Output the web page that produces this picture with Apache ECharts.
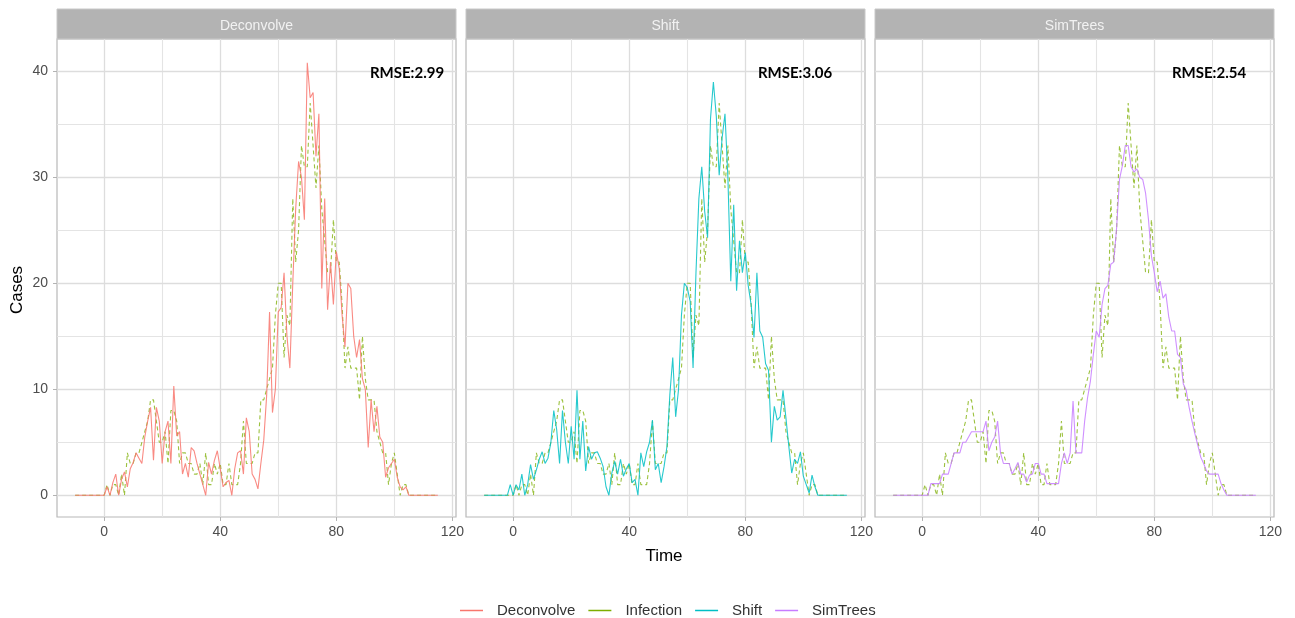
<!DOCTYPE html>
<html>
<head>
<meta charset="utf-8">
<script src="https://cdn.jsdelivr.net/npm/echarts@6/dist/echarts.min.js"></script>
<style>
  html, body { margin: 0; background: #fff; }
  #chart { width: 1295px; height: 618px; }
</style>
</head>
<body>
<div id="chart"></div>
<script>
// time runs from day -10 to day 115, one value per day
const firstDay = -10;

const infection = [
  0, 0, 0, 0, 0, 0, 0, 0, 0, 0, 0,
  1, 0, 1, 1, 0, 2, 0, 4, 3, 3,
  4, 4, 5, 6, 7, 9, 9, 7, 5, 5,
  6, 3, 8, 8, 7, 3, 4, 4, 3, 3,
  2, 2, 3, 1, 4, 1, 1, 3, 2, 3,
  1, 1, 3, 1, 1, 1, 3, 7, 3, 3,
  3, 4, 4, 9, 9, 10, 11,
  12, 17, 20, 20, 13, 17, 16, 28, 22, 25,
  33, 31, 31, 37, 33, 29, 33, 27, 24, 21,
  21, 26, 22, 22, 18, 12, 14, 12, 12, 12,
  9, 15, 11, 9, 9, 9, 6, 5, 4, 4,
  1, 3, 4, 2, 0, 1, 1,
  0, 0, 0, 0, 0, 0, 0, 0, 0, 0, 0
];

const deconvolve = [
  0, 0, 0, 0, 0, 0, 0, 0, 0, 0, 0,
  0.8, 0, 1.2, 2, 0, 1.5, 2.2, 0.8, 2.5, 3.1,
  4, 3.5, 3, 5.5, 7, 8.3, 3.3, 8.3, 7, 3,
  6, 7, 3, 10.3, 5.6, 6, 2, 3, 1.7, 4.5,
  4.2, 3, 2, 1, 0, 3.1, 2, 3.3, 4.2, 2.5,
  0.8, 1.2, 1.4, 0, 2.5, 4, 4.2, 2, 7.3, 6,
  2, 1.5, 0.6, 3, 5.2, 9.4, 17.3, 7.8, 10, 17.3,
  17.7, 21, 15, 12, 20, 27, 31.5, 30, 26, 40.8,
  37.5, 38, 32, 36, 19.5, 28, 17.5, 22, 18, 23,
  21.4, 17, 14, 20, 19.5, 15, 13, 14.7, 11, 10,
  4.5, 9, 6, 8.4, 5.5, 5, 1.7, 2.6, 3, 3.4,
  1.7, 0.8, 0.5, 0.8, 0,
  0, 0, 0, 0, 0, 0, 0, 0, 0, 0
];

const shift = [
  0, 0, 0, 0, 0, 0, 0, 0, 0,
  1, 0,
  1, 0.5, 2, 0, 1, 2.9, 1.5, 2.4, 3.4, 4.1,
  3, 3.5, 5, 8, 6.2, 3, 8, 5, 3, 6.5,
  3.4, 9.9, 3.4, 7, 2.3, 4.6, 3.4, 4, 4.1, 3.5,
  2.7, 0.8, 0, 2.1, 3.2, 2, 3.4, 1.8, 2.5, 3,
  1.2, 1.5, 0, 4, 2.7, 4.1, 5, 7.1, 2.4, 3,
  1.2, 2.7, 4.6, 9.5, 13, 7.4, 10, 17, 20, 19.6,
  18.3, 12, 21, 28, 31, 26.8, 24.3, 35.5, 39, 35.8,
  30.2, 33.7, 36, 30, 20.2, 27.4, 19.3, 24, 21, 22.9,
  19.8, 18, 14.9, 21, 15.5, 14.9, 12.4, 11.8, 5, 8.4,
  7.1, 7.4, 9.9, 7.3, 4.6, 2.1, 3.4, 3, 4.1, 1.8,
  1, 0.2, 1.9, 0.8, 0,
  0, 0, 0, 0, 0, 0, 0, 0, 0, 0
];

const simTrees = [
  0, 0, 0, 0, 0, 0, 0, 0, 0, 0, 0, 0, 0,
  1.1, 1.1, 1.1, 1.1, 2, 2, 2, 3, 4, 4,
  4, 5, 5, 5.5, 6, 6, 6, 6, 6, 7,
  4.2, 5, 5.5, 7, 4, 3, 3, 3, 2, 2.5,
  3.1, 2, 2, 1.25, 1.9, 2, 3, 3, 2, 2,
  1.1, 1.1, 1.1, 1.1, 1.1, 3, 4, 3, 4, 8.9,
  4, 4, 4, 7, 9.2, 10.8, 13.3, 15.5, 14.9, 18,
  19.5, 19.8, 21.8, 22, 25.2, 29.8, 31.1, 33, 33, 31,
  30.5, 30.8, 30, 29.8, 28.5, 26, 22.6, 21, 19.2, 20.2,
  18.6, 19, 16.8, 15.5, 15.5, 13.3, 13, 10.5, 9.9, 8.3,
  7, 5.8, 4.7, 3.6, 3, 2.3, 2, 2, 2, 2,
  1.1, 0.5, 0,
  0, 0, 0, 0, 0, 0, 0, 0, 0, 0
];

const panelNames = ['Deconvolve', 'Shift', 'SimTrees'];
const rmseLabels = ['RMSE:2.99', 'RMSE:3.06', 'RMSE:2.54'];
const legendNames = ['Deconvolve', 'Infection', 'Shift', 'SimTrees'];
const xTicks = [0, 40, 80, 120];
const xMinor = [20, 60, 100];
const yTicks = [0, 10, 20, 30, 40];
const yMinor = [5, 15, 25, 35];

const colors = {
  Deconvolve: '#F8766D',
  Infection: '#7CAE00',
  Shift: '#00BFC4',
  SimTrees: '#C77CFF'
};

const toPairs = (vals) => vals.map((v, i) => [firstDay + i, v]);
const estimates = [deconvolve, shift, simTrees];

const panelLeft = [57, 466, 875];
const panelWidth = 399;
const panelTop = 39;
const panelHeight = 478;
const rmseX = [407, 795, 1209];

const fontFam = '"Liberation Sans", Arial, sans-serif';

let myChart = echarts.init(document.getElementById('chart'));

const grid = [];
const xAxis = [];
const yAxis = [];
const series = [];
const graphic = [];

panelNames.forEach((name, i) => {
  grid.push({
    left: panelLeft[i],
    top: panelTop,
    width: panelWidth,
    height: panelHeight,
    show: true,
    borderColor: '#B8B8B8',
    borderWidth: 1.2,
    backgroundColor: '#fff'
  });
  xAxis.push({
    gridIndex: i,
    type: 'value',
    min: -16.25,
    max: 121.25,
    splitLine: { show: false },
    axisLine: { show: false, onZero: false },
    axisTick: {
      show: true,
      customValues: xTicks,
      length: 4,
      lineStyle: { color: '#B3B3B3' }
    },
    axisLabel: {
      customValues: xTicks,
      color: '#4D4D4D',
      fontSize: 14,
      fontFamily: fontFam,
      margin: 8
    }
  });
  yAxis.push({
    gridIndex: i,
    type: 'value',
    min: -2.05,
    max: 43.05,
    splitLine: { show: false },
    axisLine: { show: false, onZero: false },
    axisTick: {
      show: i === 0,
      customValues: yTicks,
      length: 4,
      lineStyle: { color: '#B3B3B3' }
    },
    axisLabel: {
      show: i === 0,
      customValues: yTicks,
      color: '#4D4D4D',
      fontSize: 14,
      fontFamily: fontFam,
      margin: 9
    }
  });

  // grid lines, major and minor
  const major = { color: '#DDDDDD', width: 1.3, type: 'solid' };
  const minor = { color: '#E4E4E4', width: 1.1, type: 'solid' };
  series.push({
    name: 'grid' + i,
    type: 'line',
    xAxisIndex: i,
    yAxisIndex: i,
    data: [],
    silent: true,
    z: 0,
    markLine: {
      silent: true,
      z: 0,
      animation: false,
      symbol: ['none', 'none'],
      label: { show: false },
      emphasis: { disabled: true },
      data: [
        ...xMinor.map(v => ({ xAxis: v, lineStyle: minor })),
        ...yMinor.map(v => ({ yAxis: v, lineStyle: minor })),
        ...xTicks.map(v => ({ xAxis: v, lineStyle: major })),
        ...yTicks.map(v => ({ yAxis: v, lineStyle: major }))
      ]
    }
  });

  series.push({
    name: 'Infection',
    type: 'line',
    xAxisIndex: i,
    yAxisIndex: i,
    data: toPairs(infection),
    symbol: 'none',
    z: 10,
    lineStyle: { color: colors.Infection, width: 1.1, type: [4, 3], opacity: 0.75 },
    itemStyle: { color: colors.Infection },
    animation: false
  });
  series.push({
    name: name,
    type: 'line',
    xAxisIndex: i,
    yAxisIndex: i,
    data: toPairs(estimates[i]),
    symbol: 'none',
    z: 11,
    lineStyle: { color: colors[name], width: 1.1, opacity: 0.85 },
    itemStyle: { color: colors[name] },
    animation: false
  });

  // facet strip
  graphic.push({
    type: 'rect',
    shape: { x: panelLeft[i], y: 9, width: panelWidth, height: 30 },
    style: { fill: '#B3B3B3', stroke: '#C8C8C8', lineWidth: 1 },
    silent: true
  });
  graphic.push({
    type: 'text',
    style: {
      x: panelLeft[i] + panelWidth / 2,
      y: 26,
      text: name,
      textAlign: 'center',
      textVerticalAlign: 'middle',
      fill: '#F2F2F2',
      font: '14px ' + fontFam
    },
    silent: true
  });
  graphic.push({
    type: 'text',
    z: 100,
    style: {
      x: rmseX[i],
      y: 73,
      text: rmseLabels[i],
      textAlign: 'center',
      textVerticalAlign: 'middle',
      fill: '#000',
      font: 'bold 15px Lato, "Open Sans", sans-serif'
    },
    silent: true
  });
});

graphic.push({
  type: 'text',
  style: {
    x: 664, y: 556, text: 'Time',
    textAlign: 'center', textVerticalAlign: 'middle',
    fill: '#000', font: '17px ' + fontFam
  },
  silent: true
});
graphic.push({
  type: 'text',
  x: 17, y: 290, rotation: Math.PI / 2,
  style: {
    x: 0, y: 0, text: 'Cases',
    textAlign: 'center', textVerticalAlign: 'middle',
    fill: '#000', font: '17px ' + fontFam
  },
  silent: true
});

let option = {
  animation: false,
  grid: grid,
  xAxis: xAxis,
  yAxis: yAxis,
  legend: {
    data: legendNames,
    top: 603,
    left: 460,
    padding: 0,
    icon: 'rect',
    itemWidth: 23,
    itemHeight: 1.5,
    itemGap: 13,
    textStyle: {
      fontSize: 15,
      color: '#333',
      fontFamily: fontFam,
      padding: [0, 0, 0, 9]
    }
  },
  graphic: graphic,
  series: series
};
myChart.setOption(option);
</script>
</body>
</html>
